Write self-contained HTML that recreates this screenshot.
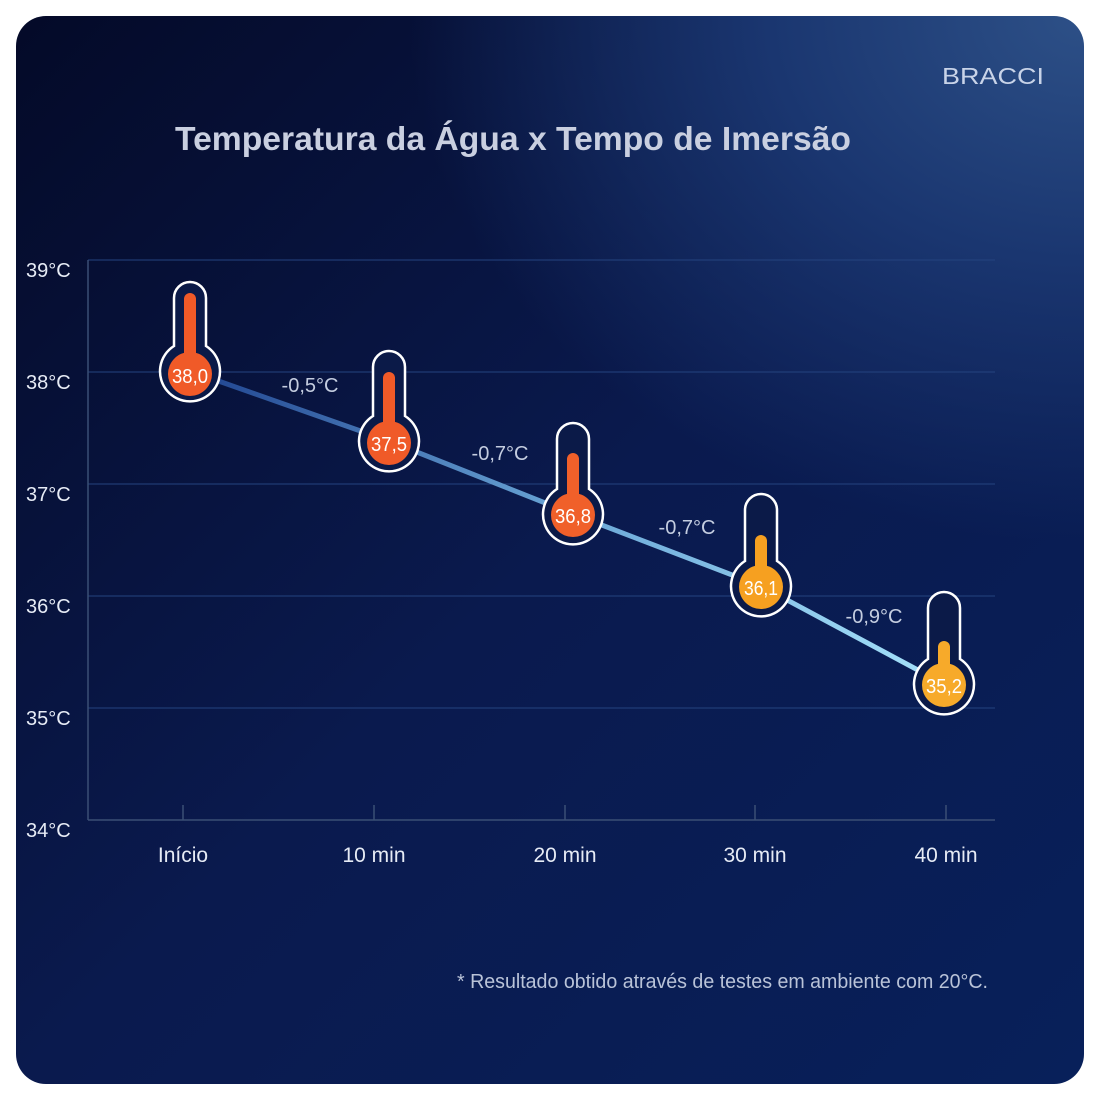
<!DOCTYPE html>
<html><head><style>
html,body{margin:0;padding:0;background:#fff;width:1100px;height:1100px;overflow:hidden}
.card{position:absolute;left:16px;top:16px;width:1068px;height:1068px;border-radius:30px;overflow:hidden;
background:radial-gradient(ellipse 900px 700px at 100% 0%,#2d5087 0%,#1a3670 35%,rgba(10,28,80,0) 75%),linear-gradient(135deg,#040a28 0%,#0a1a4e 50%,#08205a 100%)}
svg{position:absolute;left:0;top:0}
</style></head><body>
<div class="card"></div>
<svg width="1100" height="1100" viewBox="0 0 1100 1100" font-family="Liberation Sans, sans-serif">
<defs>
<linearGradient id="lg" x1="190" y1="0" x2="944" y2="0" gradientUnits="userSpaceOnUse">
<stop offset="0" stop-color="#1f438f"/><stop offset="0.5" stop-color="#6aa6d6"/><stop offset="1" stop-color="#a6e2fb"/></linearGradient>
</defs>
<text x="942" y="84" fill="#c8d3e8" font-size="23" textLength="102" lengthAdjust="spacingAndGlyphs">BRACCI</text>
<text x="175" y="150" fill="#c9cfe0" font-size="33" font-weight="bold" textLength="676" lengthAdjust="spacingAndGlyphs">Temperatura da Água x Tempo de Imersão</text>
<g stroke="#24437f" stroke-width="1">
<line x1="88" y1="260" x2="995" y2="260"/><line x1="88" y1="372" x2="995" y2="372"/>
<line x1="88" y1="484" x2="995" y2="484"/><line x1="88" y1="596" x2="995" y2="596"/>
<line x1="88" y1="708" x2="995" y2="708"/></g>
<g stroke="#3a4f75" stroke-width="1.5">
<line x1="88" y1="260" x2="88" y2="820"/><line x1="88" y1="820" x2="995" y2="820"/>
<line x1="183" y1="805" x2="183" y2="820"/><line x1="374" y1="805" x2="374" y2="820"/>
<line x1="565" y1="805" x2="565" y2="820"/><line x1="755" y1="805" x2="755" y2="820"/>
<line x1="946" y1="805" x2="946" y2="820"/></g>
<g fill="#e6ebf5" font-size="20">
<text x="26" y="277">39°C</text><text x="26" y="389">38°C</text><text x="26" y="501">37°C</text>
<text x="26" y="613">36°C</text><text x="26" y="725">35°C</text><text x="26" y="837">34°C</text></g>
<g fill="#e6ebf5" font-size="21" text-anchor="middle">
<text x="183" y="862">Início</text><text x="374" y="862">10 min</text><text x="565" y="862">20 min</text>
<text x="755" y="862">30 min</text><text x="946" y="862">40 min</text></g>
<polyline points="190,371 389,441 573,514 761,586 944,684" fill="none" stroke="url(#lg)" stroke-width="5"/>
<g fill="#c4cde0" font-size="20" text-anchor="middle">
<text x="310" y="392">-0,5°C</text><text x="500" y="460">-0,7°C</text>
<text x="687" y="534">-0,7°C</text><text x="874" y="623">-0,9°C</text></g>
<g stroke="#fff" stroke-width="2.5" fill="#0b1a48">
<path d="M174,346 V298 a16,16 0 0 1 32,0 V346 A30,30 0 1 1 174,346 Z"/>
<path d="M373,416 V367 a16,16 0 0 1 32,0 V416 A30,30 0 1 1 373,416 Z"/>
<path d="M557,489 V439 a16,16 0 0 1 32,0 V489 A30,30 0 1 1 557,489 Z"/>
<path d="M745,561 V510 a16,16 0 0 1 32,0 V561 A30,30 0 1 1 745,561 Z"/>
<path d="M928,659 V608 a16,16 0 0 1 32,0 V659 A30,30 0 1 1 928,659 Z"/>
</g>
<g>
<rect x="184" y="293" width="12" height="70" rx="6" fill="#f05a28"/><circle cx="190" cy="374" r="22" fill="#f05a28"/>
<rect x="383" y="372" width="12" height="60" rx="6" fill="#f05a28"/><circle cx="389" cy="443" r="22" fill="#f05a28"/>
<rect x="567" y="453" width="12" height="55" rx="6" fill="#f0602a"/><circle cx="573" cy="515" r="22" fill="#f0602a"/>
<rect x="755" y="535" width="12" height="45" rx="6" fill="#f6a020"/><circle cx="761" cy="587" r="22" fill="#f6a020"/>
<rect x="938" y="641" width="12" height="35" rx="6" fill="#f7aa2a"/><circle cx="944" cy="685" r="22" fill="#f7aa2a"/>
</g>
<g fill="#fff" font-size="20" text-anchor="middle">
<text x="190" y="383" textLength="36" lengthAdjust="spacingAndGlyphs">38,0</text><text x="389" y="451" textLength="36" lengthAdjust="spacingAndGlyphs">37,5</text><text x="573" y="523" textLength="36" lengthAdjust="spacingAndGlyphs">36,8</text>
<text x="761" y="595" textLength="34" lengthAdjust="spacingAndGlyphs">36,1</text><text x="944" y="693" textLength="36" lengthAdjust="spacingAndGlyphs">35,2</text></g>
<text x="457" y="988" fill="#b9c3d8" font-size="20" textLength="531" lengthAdjust="spacingAndGlyphs">* Resultado obtido através de testes em ambiente com 20°C.</text>
</svg>
</body></html>
